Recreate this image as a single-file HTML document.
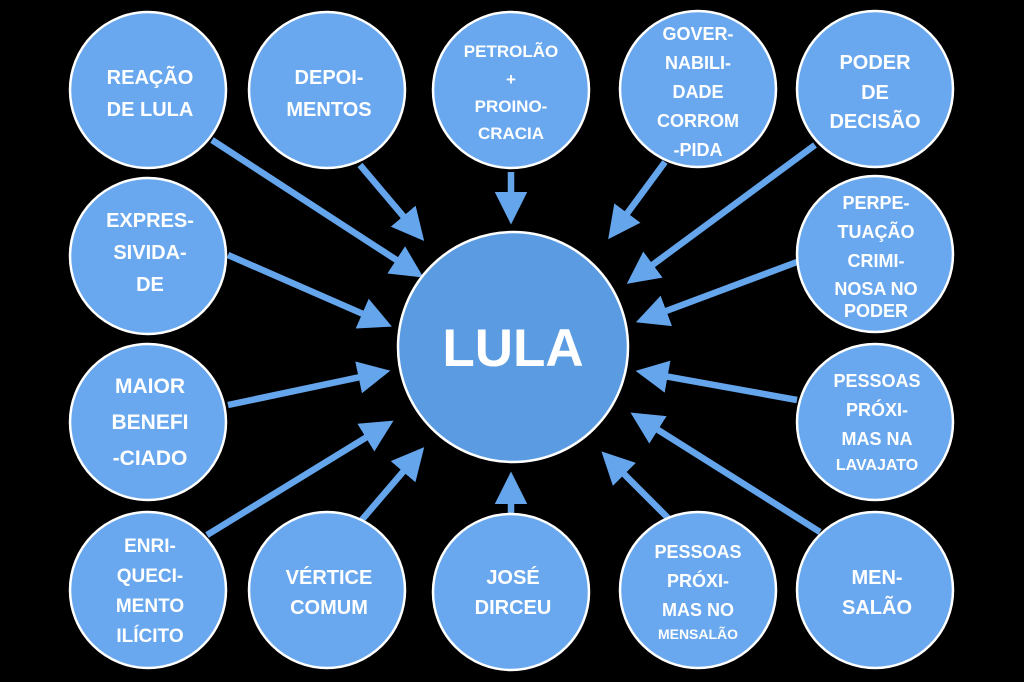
<!DOCTYPE html>
<html><head><meta charset="utf-8"><style>
html,body{margin:0;padding:0;background:#000;}
svg{display:block}
text{font-family:"Liberation Sans",sans-serif;font-weight:bold;fill:#fff;text-anchor:middle}
</style></head><body>
<svg width="1024" height="682" viewBox="0 0 1024 682" xmlns="http://www.w3.org/2000/svg">
<defs>
<marker id="a" markerWidth="5" markerHeight="5" refX="4" refY="2.5" orient="auto" markerUnits="strokeWidth">
<path d="M0,0 L5,2.5 L0,5 Z" fill="#64a5ec"/>
</marker>
</defs>
<rect width="1024" height="682" fill="#000"/>
<g stroke="#64a5ec" stroke-width="6.5" marker-end="url(#a)">
<line x1="212" y1="140" x2="418" y2="274"/>
<line x1="360" y1="165" x2="420" y2="236"/>
<line x1="511" y1="172" x2="511" y2="218"/>
<line x1="665" y1="162" x2="612" y2="234"/>
<line x1="815" y1="145" x2="632" y2="280"/>
<line x1="228" y1="255" x2="386" y2="324"/>
<line x1="797" y1="262" x2="642" y2="320"/>
<line x1="228" y1="405" x2="384" y2="372"/>
<line x1="797" y1="400" x2="642" y2="372"/>
<line x1="207" y1="535" x2="388" y2="424"/>
<line x1="360" y1="522" x2="420" y2="452"/>
<line x1="511" y1="513" x2="511" y2="478"/>
<line x1="672" y1="522" x2="606" y2="456"/>
<line x1="820" y1="532" x2="636" y2="416"/>
</g>
<g fill="#69a8ee" stroke="#fff" stroke-width="2.5">
<circle cx="148" cy="90" r="78"/>
<circle cx="327" cy="90" r="78"/>
<circle cx="511" cy="90" r="78"/>
<circle cx="698" cy="89" r="78"/>
<circle cx="875" cy="89" r="78"/>
<circle cx="148" cy="256" r="78"/>
<circle cx="875" cy="254" r="78"/>
<circle cx="148" cy="422" r="78"/>
<circle cx="875" cy="422" r="78"/>
<circle cx="148" cy="590" r="78"/>
<circle cx="327" cy="590" r="78"/>
<circle cx="511" cy="592" r="78"/>
<circle cx="698" cy="590" r="78"/>
<circle cx="875" cy="590" r="78"/>
<circle cx="513" cy="347" r="115" fill="#5b9be2"/>
</g>
<text x="513" y="366" font-size="53">LULA</text>
<g font-size="20">
<text x="150" y="84">REAÇÃO</text><text x="150" y="116">DE LULA</text>
<text x="329" y="84">DEPOI-</text><text x="329" y="116">MENTOS</text>
<text x="511" y="57" font-size="17">PETROLÃO</text><text x="511" y="85" font-size="17">+</text><text x="511" y="112" font-size="17">PROINO-</text><text x="511" y="139" font-size="17">CRACIA</text>
<text x="698" y="40" font-size="18">GOVER-</text><text x="698" y="69" font-size="18">NABILI-</text><text x="698" y="98" font-size="18">DADE</text><text x="698" y="127" font-size="18">CORROM</text><text x="698" y="156" font-size="18">-PIDA</text>
<text x="875" y="69">PODER</text><text x="875" y="99">DE</text><text x="875" y="128">DECISÃO</text>
<text x="150" y="227">EXPRES-</text><text x="150" y="259">SIVIDA-</text><text x="150" y="291">DE</text>
<text x="876" y="209" font-size="18">PERPE-</text><text x="876" y="238" font-size="18">TUAÇÃO</text><text x="876" y="267" font-size="18">CRIMI-</text><text x="876" y="295" font-size="18">NOSA NO</text><text x="876" y="317" font-size="18">PODER</text>
<text x="150" y="393" font-size="21">MAIOR</text><text x="150" y="429" font-size="21">BENEFI</text><text x="150" y="465" font-size="21">-CIADO</text>
<text x="877" y="387" font-size="18">PESSOAS</text><text x="877" y="416" font-size="18">PRÓXI-</text><text x="877" y="445" font-size="18">MAS NA</text><text x="877" y="470" font-size="16">LAVAJATO</text>
<text x="150" y="552" font-size="19">ENRI-</text><text x="150" y="582" font-size="19">QUECI-</text><text x="150" y="612" font-size="19">MENTO</text><text x="150" y="642" font-size="19">ILÍCITO</text>
<text x="329" y="584">VÉRTICE</text><text x="329" y="614">COMUM</text>
<text x="513" y="584">JOSÉ</text><text x="513" y="614">DIRCEU</text>
<text x="698" y="558" font-size="18">PESSOAS</text><text x="698" y="587" font-size="18">PRÓXI-</text><text x="698" y="616" font-size="18">MAS NO</text><text x="698" y="639" font-size="14">MENSALÃO</text>
<text x="877" y="584">MEN-</text><text x="877" y="614">SALÃO</text>
</g>
</svg>
</body></html>
